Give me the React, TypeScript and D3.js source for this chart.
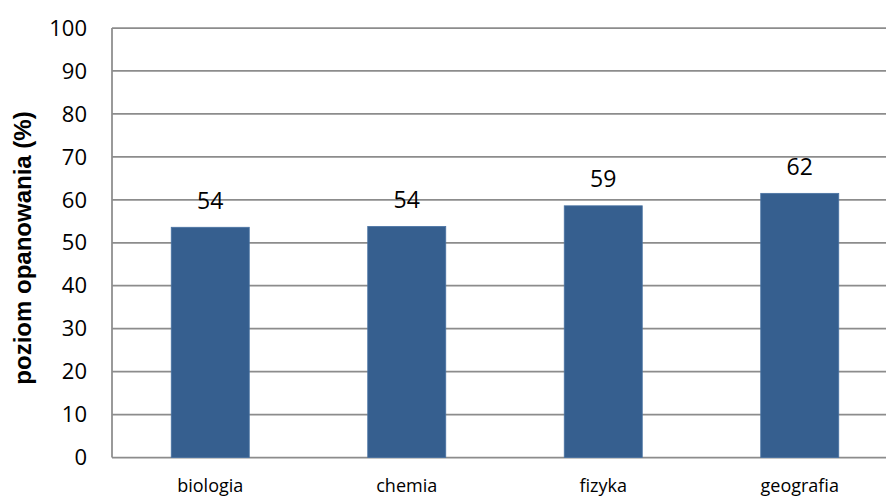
import React, { useEffect, useRef } from 'react';
import * as d3 from 'd3';

const categories = ['biologia', 'chemia', 'fizyka', 'geografia'];
const values = [53.6, 53.8, 58.6, 61.5];
const labels = ['54', '54', '59', '62'];
const yTicks = [0, 10, 20, 30, 40, 50, 60, 70, 80, 90, 100];

const App: React.FC = () => {
  const svgRef = useRef<SVGSVGElement>(null);

  useEffect(() => {
    if (!svgRef.current) return;
    const svg = d3.select(svgRef.current);
    svg.selectAll('*').remove();

    const width = 886;
    const height = 496;
    const left = 112;
    const top = 28;
    const bottom = 457.5;

    const x = d3.scaleBand<string>()
      .domain(categories)
      .range([left, 898])
      .paddingInner(0.603)
      .paddingOuter(0.3015);
    const y = d3.scaleLinear().domain([0, 100]).range([bottom, top]);

    // grid lines
    svg.append('g')
      .selectAll('line')
      .data(yTicks)
      .enter()
      .append('line')
      .attr('x1', left)
      .attr('x2', width)
      .attr('y1', d => y(d))
      .attr('y2', d => y(d))
      .attr('stroke', '#8c8c8c')
      .attr('stroke-width', 1.75);

    // left axis line
    svg.append('line')
      .attr('x1', left)
      .attr('x2', left)
      .attr('y1', top)
      .attr('y2', bottom)
      .attr('stroke', '#8c8c8c')
      .attr('stroke-width', 1.75);

    // tick labels
    svg.append('g')
      .selectAll('text')
      .data(yTicks)
      .enter()
      .append('text')
      .attr('x', 87)
      .attr('y', d => y(d))
      .attr('dy', '0.35em')
      .attr('text-anchor', 'end')
      .attr('font-family', 'Open Sans')
      .attr('font-size', '22px')
      .attr('fill', '#000')
      .text(d => d);

    // bars
    svg.append('g')
      .selectAll('rect')
      .data(values)
      .enter()
      .append('rect')
      .attr('x', (d, i) => x(categories[i])!)
      .attr('y', d => y(d))
      .attr('width', x.bandwidth())
      .attr('height', d => bottom - y(d))
      .attr('fill', '#365f8f')
      .attr('stroke', '#4a73a3')
      .attr('stroke-width', 0.8);

    // value labels
    svg.append('g')
      .selectAll('text')
      .data(values)
      .enter()
      .append('text')
      .attr('x', (d, i) => x(categories[i])! + x.bandwidth() / 2)
      .attr('y', d => y(d) - 18.5)
      .attr('text-anchor', 'middle')
      .attr('font-family', 'Open Sans')
      .attr('font-size', '23px')
      .attr('fill', '#000')
      .text((d, i) => labels[i]);

    // category labels
    svg.append('g')
      .selectAll('text')
      .data(categories)
      .enter()
      .append('text')
      .attr('x', d => x(d)! + x.bandwidth() / 2)
      .attr('y', 492)
      .attr('text-anchor', 'middle')
      .attr('font-family', 'Open Sans')
      .attr('font-size', '18px')
      .attr('fill', '#000')
      .text(d => d);

    // y axis title
    svg.append('text')
      .attr('transform', 'translate(31,248) rotate(-90)')
      .attr('text-anchor', 'middle')
      .attr('font-family', 'Liberation Sans, Arial, sans-serif')
      .attr('font-weight', 'bold')
      .attr('font-size', '24px')
      .attr('fill', '#000')
      .text('poziom opanowania (%)');

    svg.attr('height', height);
  }, []);

  return (
    <svg
      ref={svgRef}
      width={886}
      height={496}
      style={{ position: 'absolute', left: 0, top: 0, background: '#fff' }}
    />
  );
};

export default App;
